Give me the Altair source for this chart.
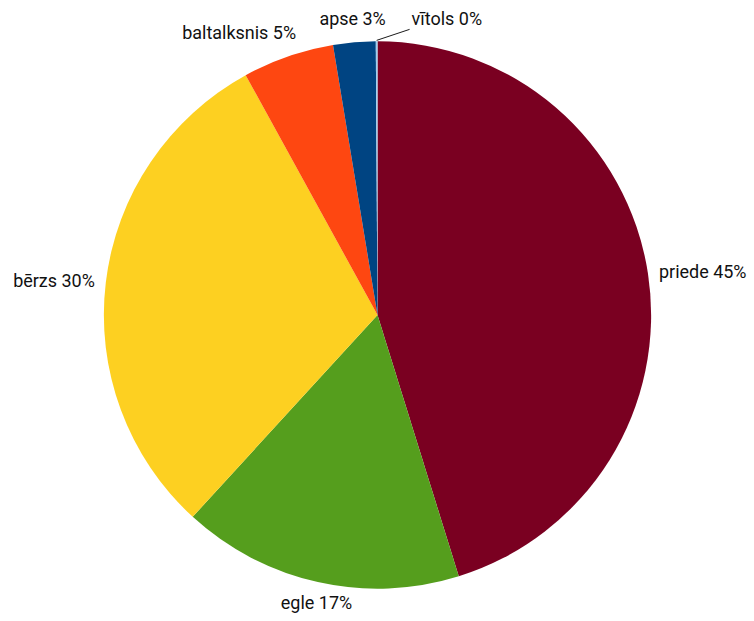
import altair as alt
import pandas as pd

names = ["priede", "egle", "bērzs", "baltalksnis", "apse", "vītols"]
shares = [45.2, 16.6, 30.2, 5.4, 2.5, 0.1]
colors = ["#7a0021", "#559e1d", "#fdd021", "#fe4711", "#004482", "#a0cff0"]

df = pd.DataFrame({"name": names, "v": shares, "idx": list(range(len(names)))})

FONT = "Roboto, sans-serif"
R = 274

base = alt.Chart(df).transform_window(
    cum="sum(v)", sort=[alt.SortField("idx")], frame=[None, 0]
).transform_calculate(
    mid="datum.cum - datum.v / 2",
    label="datum.name + ' ' + round(datum.v) + '%'",
)

theta_scale = alt.Scale(domain=[0, 100])

arcs = alt.Chart(df).mark_arc(outerRadius=R, stroke=None).encode(
    theta=alt.Theta("v:Q", stack=True, scale=theta_scale),
    color=alt.Color("name:N", scale=alt.Scale(domain=names, range=colors), legend=None),
    order=alt.Order("idx:Q"),
)


def lab(name, align, dx=0, dy=0, baseline="middle"):
    return base.transform_filter(alt.datum.name == name).mark_text(
        radius=280, align=align, baseline=baseline, dx=dx, dy=dy,
        font=FONT, fontSize=18, color="#111111",
    ).encode(
        theta=alt.Theta("mid:Q", scale=theta_scale),
        text="label:N",
    )


labels = [
    lab("priede", "left", dx=5),
    lab("egle", "center", dy=7, baseline="top"),
    lab("bērzs", "right", dx=-5),
    lab("baltalksnis", "right", dx=10, dy=-17),
    lab("apse", "right", dx=32, dy=-16),
    lab("vītols", "left", dx=35, dy=-15),
]

connector = base.transform_filter(alt.datum.name == "vītols").transform_calculate(
    a="datum.mid / 100 * 2 * PI",
).transform_calculate(
    x1="width / 2 + 275 * sin(datum.a)",
    y1="height / 2 - 275 * cos(datum.a)",
).transform_calculate(
    x2="datum.x1 + 33",
    y2="datum.y1 - 11",
).mark_rule(color="#1a1a1a", strokeWidth=1).encode(
    x=alt.X("x1:Q", scale=None),
    y=alt.Y("y1:Q", scale=None),
    x2="x2:Q",
    y2="y2:Q",
)

chart = alt.layer(arcs, connector, *labels).properties(
    width=754,
    height=612,
    padding={"left": 1, "top": 9, "right": 0, "bottom": 0},
    autosize=alt.AutoSizeParams(type="none"),
).configure_view(stroke=None)

chart.save("out.html", embed_options={"renderer": "svg", "actions": False})
